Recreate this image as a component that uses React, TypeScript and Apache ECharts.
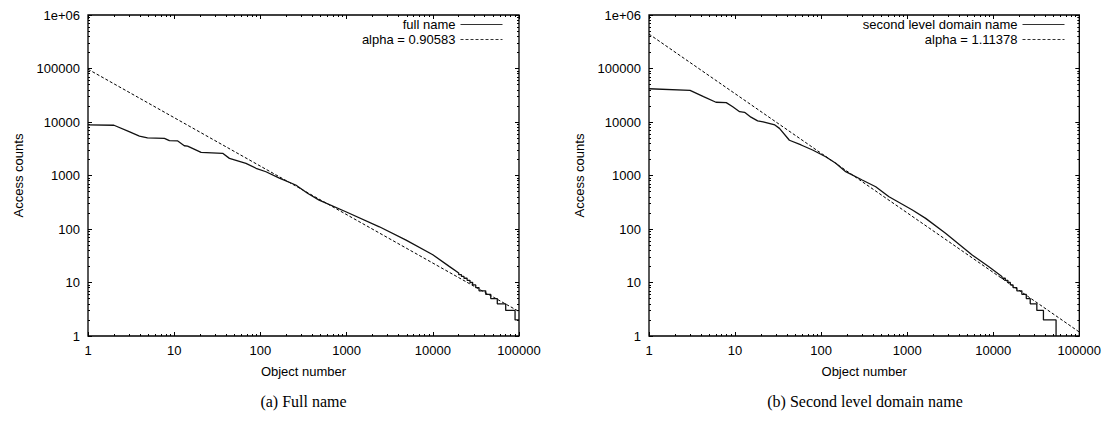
import React, { useEffect, useRef } from 'react';
import * as echarts from 'echarts';

// Rank / access-count curve for full host names
const FULL_RANKS = [
  1, 2, 3, 3.95, 4.9, 7.7, 8.8, 11, 13.1, 14.3, 20.5, 36.5, 43.7, 68, 89, 116, 166, 257, 352, 480,
  980, 2400, 4900, 10000, 15500, 20000,
  20000, 21500, 21500, 23000, 23000, 25000, 25000, 27000, 27000, 29000, 29000, 31500, 31500,
  34400, 34400, 41100, 41100, 47000, 47000, 56000, 56000, 70100, 70100, 90000, 90000, 100000,
];
const FULL_COUNTS = [
  8800, 8700, 6600, 5450, 5050, 4950, 4470, 4420, 3600, 3550, 2700, 2600, 2090, 1690, 1365, 1175, 890, 665, 465, 347,
  210, 110, 62, 33, 20, 15,
  14, 14, 13, 13, 12, 12, 11, 11, 10, 10, 9, 9, 8,
  8, 7, 7, 6, 6, 5, 5, 4, 4, 3, 3, 2, 2,
];

// Rank / access-count curve for second level domain names
const SLD_RANKS = [
  1, 3, 4.3, 6, 7.9, 9.4, 11.3, 12.9, 15.3, 18.3, 21.2, 29, 32.8, 42.8, 58.5, 79.6, 113, 148, 193, 300,
  431, 615, 1150, 1640, 2790, 5690, 8900, 12600,
  12600, 13800, 13800, 14800, 14800, 15800, 15800, 17000, 17000, 18800, 18800, 21500, 21500,
  24200, 24200, 26900, 26900, 32100, 32100, 38300, 38300, 53700, 53700,
];
const SLD_COUNTS = [
  41800, 39000, 29700, 23400, 23000, 19300, 15600, 15200, 12300, 10500, 10100, 8790, 7600, 4560, 3720, 3000, 2240, 1690, 1180, 824,
  617, 400, 226, 158, 83, 32.6, 19.7, 13,
  12, 12, 11, 11, 10, 10, 9, 9, 8, 8, 7, 7, 6,
  6, 5, 5, 4, 4, 3, 3, 2, 2, 1,
];

// Zipf fits: count = scale * rank^(-alpha)
const FULL_ALPHA = 0.90583;
const FULL_FIT_SCALE = 97000;
const SLD_ALPHA = 1.11378;
const SLD_FIT_SCALE = 440000;

const X_RANGE = [1, 100000];
const Y_RANGE = [1, 1000000];
const X_TICKS = [1, 10, 100, 1000, 10000, 100000];
const X_TICK_LABELS = ['1', '10', '100', '1000', '10000', '100000'];
const Y_TICKS = [1, 10, 100, 1000, 10000, 100000, 1000000];
const Y_TICK_LABELS = ['1', '10', '100', '1000', '10000', '100000', '1e+06'];
const MINOR_STEPS = [2, 3, 4, 5, 6, 7, 8, 9];

const PANELS = [
  {
    caption: '(a) Full name',
    dataName: 'full name',
    ranks: FULL_RANKS,
    counts: FULL_COUNTS,
    alpha: FULL_ALPHA,
    scale: FULL_FIT_SCALE,
  },
  {
    caption: '(b) Second level domain name',
    dataName: 'second level domain name',
    ranks: SLD_RANKS,
    counts: SLD_COUNTS,
    alpha: SLD_ALPHA,
    scale: SLD_FIT_SCALE,
  },
];

const GRIDS = [
  { left: 88, top: 15, width: 431, height: 321 },
  { left: 649, top: 15, width: 432, height: 321 },
];
const LEGEND_RIGHT = [601, 39];

const SANS = 'Liberation Sans, Arial, Helvetica, sans-serif';
const SERIF = 'Liberation Serif, Times New Roman, serif';

function minorValues(majors: number[]) {
  const out: number[] = [];
  for (let i = 0; i < majors.length - 1; i++) {
    for (const m of MINOR_STEPS) out.push(majors[i] * m);
  }
  return out;
}

function labelFor(ticks: number[], labels: string[]) {
  return (v: number) => {
    const i = ticks.findIndex((t) => Math.abs(t - v) / t < 1e-6);
    return i >= 0 ? labels[i] : '';
  };
}

function buildOption() {
  const xAxis: any[] = [];
  const yAxis: any[] = [];
  const series: any[] = [];
  const legend: any[] = [];
  const graphic: any[] = [];
  const xMinor = minorValues(X_TICKS);
  const yMinor = minorValues(Y_TICKS);
  const tickLine = { color: '#000', width: 1 };

  PANELS.forEach((p, g) => {
    const baseX = {
      type: 'log',
      logBase: 10,
      min: X_RANGE[0],
      max: X_RANGE[1],
      gridIndex: g,
      axisLine: { show: false },
      splitLine: { show: false },
    };
    const baseY = {
      type: 'log',
      logBase: 10,
      min: Y_RANGE[0],
      max: Y_RANGE[1],
      gridIndex: g,
      axisLine: { show: false },
      splitLine: { show: false },
    };
    const xMainIndex = xAxis.length;
    xAxis.push({
      ...baseX,
      position: 'bottom',
      name: 'Object number',
      nameLocation: 'middle',
      nameGap: 29,
      nameTextStyle: { fontFamily: SANS, fontSize: 13, color: '#000' },
      axisTick: { inside: true, length: 4, customValues: X_TICKS, lineStyle: tickLine },
      axisLabel: {
        fontFamily: SANS,
        fontSize: 13,
        color: '#000',
        margin: 8,
        customValues: X_TICKS,
        formatter: labelFor(X_TICKS, X_TICK_LABELS),
      },
    });
    xAxis.push({
      ...baseX,
      position: 'top',
      axisTick: { inside: true, length: 4, customValues: X_TICKS, lineStyle: tickLine },
      axisLabel: { show: false },
    });
    xAxis.push({
      ...baseX,
      position: 'bottom',
      axisTick: { inside: true, length: 2, customValues: xMinor, lineStyle: tickLine },
      axisLabel: { show: false },
    });
    xAxis.push({
      ...baseX,
      position: 'top',
      axisTick: { inside: true, length: 2, customValues: xMinor, lineStyle: tickLine },
      axisLabel: { show: false },
    });

    const yMainIndex = yAxis.length;
    yAxis.push({
      ...baseY,
      position: 'left',
      name: 'Access counts',
      nameLocation: 'middle',
      nameGap: 63,
      nameTextStyle: { fontFamily: SANS, fontSize: 13, color: '#000' },
      axisTick: { inside: true, length: 4, customValues: Y_TICKS, lineStyle: tickLine },
      axisLabel: {
        fontFamily: SANS,
        fontSize: 13,
        color: '#000',
        margin: 8,
        customValues: Y_TICKS,
        formatter: labelFor(Y_TICKS, Y_TICK_LABELS),
      },
    });
    yAxis.push({
      ...baseY,
      position: 'right',
      axisTick: { inside: true, length: 4, customValues: Y_TICKS, lineStyle: tickLine },
      axisLabel: { show: false },
    });
    yAxis.push({
      ...baseY,
      position: 'left',
      axisTick: { inside: true, length: 2, customValues: yMinor, lineStyle: tickLine },
      axisLabel: { show: false },
    });
    yAxis.push({
      ...baseY,
      position: 'right',
      axisTick: { inside: true, length: 2, customValues: yMinor, lineStyle: tickLine },
      axisLabel: { show: false },
    });

    const fitName = `alpha = ${p.alpha}`;
    series.push({
      type: 'line',
      name: p.dataName,
      xAxisIndex: xMainIndex,
      yAxisIndex: yMainIndex,
      data: p.ranks.map((r, i) => [r, p.counts[i]]),
      symbol: 'none',
      lineStyle: { color: '#111', width: 1.3, type: 'solid' },
      itemStyle: { color: '#111' },
      z: 3,
    });
    series.push({
      type: 'line',
      name: fitName,
      xAxisIndex: xMainIndex,
      yAxisIndex: yMainIndex,
      data: X_RANGE.map((x) => [x, p.scale * Math.pow(x, -p.alpha)]),
      symbol: 'none',
      lineStyle: { color: '#000', width: 1, type: [3, 2] },
      itemStyle: { color: '#000' },
      z: 2,
    });

    legend.push({
      data: [p.dataName, fitName],
      orient: 'vertical',
      align: 'right',
      right: LEGEND_RIGHT[g],
      top: 18,
      padding: 0,
      itemGap: 2,
      itemWidth: 42,
      itemHeight: 14,
      selectedMode: false,
      itemStyle: { color: 'rgba(0,0,0,0)', borderColor: 'rgba(0,0,0,0)', borderWidth: 0 },
      lineStyle: { width: 1, color: '#333' },
      textStyle: { fontFamily: SANS, fontSize: 13, color: '#000' },
    });

    const grid = GRIDS[g];
    graphic.push({
      type: 'text',
      x: grid.left + grid.width / 2,
      y: 401,
      style: {
        text: p.caption,
        align: 'center',
        verticalAlign: 'middle',
        fontFamily: SERIF,
        fontSize: 16,
        fill: '#000',
      },
    });
  });

  return {
    animation: false,
    backgroundColor: '#fff',
    grid: GRIDS.map((gr) => ({
      ...gr,
      show: true,
      borderColor: '#000',
      borderWidth: 1.3,
      backgroundColor: 'transparent',
    })),
    xAxis,
    yAxis,
    series,
    legend,
    graphic,
  };
}

export default function App() {
  const ref = useRef<HTMLDivElement>(null);
  useEffect(() => {
    if (!ref.current) return;
    const chart = echarts.init(ref.current, undefined, { renderer: 'svg' });
    chart.setOption(buildOption() as any);
    return () => chart.dispose();
  }, []);
  return (
    <div
      ref={ref}
      style={{ position: 'fixed', left: 0, top: 0, width: 1104, height: 425, background: '#fff' }}
    />
  );
}
